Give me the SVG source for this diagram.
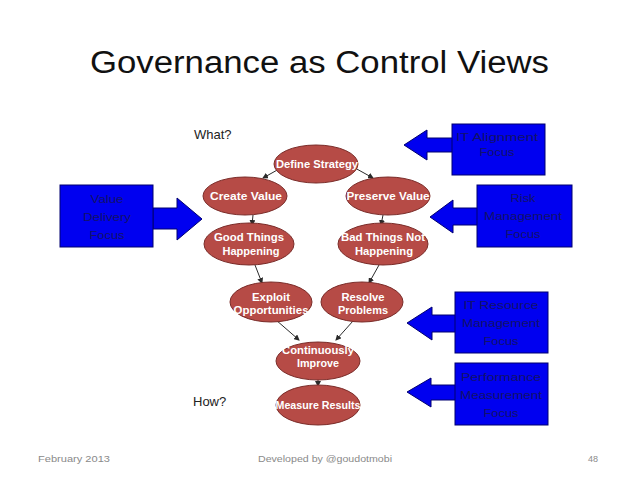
<svg xmlns="http://www.w3.org/2000/svg" width="638" height="479" viewBox="0 0 638 479">
<defs>
<marker id="ah" markerWidth="6" markerHeight="6" refX="5" refY="3" orient="auto" markerUnits="userSpaceOnUse">
<path d="M0,0 L6,3 L0,6 z" fill="#2a2a2a"/>
</marker>
<style>
.title{font-family:"Liberation Sans",Arial,sans-serif;font-size:31px;fill:#111}
.foot{font-family:"Liberation Sans",Arial,sans-serif;font-size:9px;fill:#8a8a8a}
.q{font-family:"Liberation Sans",Arial,sans-serif;font-size:13px;fill:#222}
.ell{fill:#b64b46;stroke:#7a2c29;stroke-width:1}
.et{font-family:"Liberation Sans",Arial,sans-serif;font-size:11px;font-weight:bold;fill:#fff;text-anchor:middle}
.box{fill:#0000f0;stroke:#000070;stroke-width:1}
.arr{fill:#0000f0;stroke:#000070;stroke-width:1}
.bt{font-family:"Liberation Sans",Arial,sans-serif;font-size:11.5px;fill:#12126a;text-anchor:middle}
.con{stroke:#2a2a2a;stroke-width:1;fill:none;marker-end:url(#ah)}
</style>
</defs>
<rect width="638" height="479" fill="#fff"/>
<text class="title" x="90" y="73" textLength="459" lengthAdjust="spacingAndGlyphs">Governance as Control Views</text>
<text class="q" x="194" y="139">What?</text>
<text class="q" x="193" y="406">How?</text>

<g id="connectors">
<line class="con" x1="279" y1="169" x2="263" y2="178"/>
<line class="con" x1="355" y1="168" x2="373" y2="178"/>
<line class="con" x1="253" y1="215" x2="252" y2="225"/>
<line class="con" x1="383" y1="215" x2="381" y2="225"/>
<line class="con" x1="255" y1="265" x2="262" y2="283"/>
<line class="con" x1="379" y1="265" x2="369" y2="283"/>
<line class="con" x1="276" y1="320" x2="299" y2="340"/>
<line class="con" x1="353" y1="321" x2="336" y2="340"/>
<line class="con" x1="318" y1="379" x2="318" y2="386"/>
</g>

<g id="define-strategy">
<ellipse class="ell" cx="316" cy="164" rx="42" ry="19"/>
<text class="et" x="317" y="168" textLength="82" lengthAdjust="spacingAndGlyphs">Define Strategy</text>
</g>
<g id="create-value">
<ellipse class="ell" cx="245" cy="196" rx="42" ry="19"/>
<text class="et" x="246" y="200" textLength="72" lengthAdjust="spacingAndGlyphs">Create Value</text>
</g>
<g id="preserve-value">
<ellipse class="ell" cx="388" cy="196" rx="42" ry="19"/>
<text class="et" x="388" y="200" textLength="83" lengthAdjust="spacingAndGlyphs">Preserve Value</text>
</g>
<g id="good-things">
<ellipse class="ell" cx="249" cy="244" rx="45" ry="21"/>
<text class="et" x="249" y="241" textLength="70" lengthAdjust="spacingAndGlyphs">Good Things</text>
<text class="et" x="251" y="255" textLength="57" lengthAdjust="spacingAndGlyphs">Happening</text>
</g>
<g id="bad-things">
<ellipse class="ell" cx="383" cy="244" rx="45" ry="21"/>
<text class="et" x="383" y="241" textLength="84" lengthAdjust="spacingAndGlyphs">Bad Things Not</text>
<text class="et" x="384" y="255" textLength="58" lengthAdjust="spacingAndGlyphs">Happening</text>
</g>
<g id="exploit-opportunities">
<ellipse class="ell" cx="271" cy="302" rx="41" ry="20"/>
<text class="et" x="271" y="301" textLength="38" lengthAdjust="spacingAndGlyphs">Exploit</text>
<text class="et" x="271" y="314" textLength="75" lengthAdjust="spacingAndGlyphs">Opportunities</text>
</g>
<g id="resolve-problems">
<ellipse class="ell" cx="362" cy="302" rx="41" ry="20"/>
<text class="et" x="363" y="301" textLength="43" lengthAdjust="spacingAndGlyphs">Resolve</text>
<text class="et" x="363" y="314" textLength="50" lengthAdjust="spacingAndGlyphs">Problems</text>
</g>
<g id="continuously-improve">
<ellipse class="ell" cx="318" cy="361" rx="42" ry="19"/>
<text class="et" x="318" y="354" textLength="72" lengthAdjust="spacingAndGlyphs">Continuously</text>
<text class="et" x="318" y="367" textLength="42" lengthAdjust="spacingAndGlyphs">Improve</text>
</g>
<g id="measure-results">
<ellipse class="ell" cx="318" cy="405" rx="42" ry="20"/>
<text class="et" x="318" y="409" textLength="85" lengthAdjust="spacingAndGlyphs">Measure Results</text>
</g>

<g id="value-delivery">
<polygon class="arr" points="153,208 177,208 177,198 202,219 177,240 177,229 153,229"/>
<rect class="box" x="60" y="185" width="93" height="62"/>
<text class="bt" x="107" y="203" textLength="33" lengthAdjust="spacingAndGlyphs">Value</text>
<text class="bt" x="107" y="221" textLength="48" lengthAdjust="spacingAndGlyphs">Delivery</text>
<text class="bt" x="107" y="239" textLength="35" lengthAdjust="spacingAndGlyphs">Focus</text>
</g>
<g id="it-alignment">
<polygon class="arr" points="453,138 427,138 427,130 404,145 427,160 427,152 453,152"/>
<rect class="box" x="452" y="124" width="93" height="51"/>
<text class="bt" x="497" y="141" textLength="82" lengthAdjust="spacingAndGlyphs">IT Alignment</text>
<text class="bt" x="497" y="156" textLength="35" lengthAdjust="spacingAndGlyphs">Focus</text>
</g>
<g id="risk-management">
<polygon class="arr" points="478,208 453,208 453,200 430,217 453,233 453,225 478,225"/>
<rect class="box" x="477" y="185" width="95" height="62"/>
<text class="bt" x="523" y="202" textLength="25" lengthAdjust="spacingAndGlyphs">Risk</text>
<text class="bt" x="523" y="220" textLength="78" lengthAdjust="spacingAndGlyphs">Management</text>
<text class="bt" x="523" y="238" textLength="35" lengthAdjust="spacingAndGlyphs">Focus</text>
</g>
<g id="it-resource">
<polygon class="arr" points="456,315 432,315 432,307 407,323 432,340 432,332 456,332"/>
<rect class="box" x="455" y="292" width="93" height="61"/>
<text class="bt" x="501" y="309" textLength="75" lengthAdjust="spacingAndGlyphs">IT Resource</text>
<text class="bt" x="501" y="327" textLength="78" lengthAdjust="spacingAndGlyphs">Management</text>
<text class="bt" x="501" y="345" textLength="35" lengthAdjust="spacingAndGlyphs">Focus</text>
</g>
<g id="performance-measurement">
<polygon class="arr" points="456,385 431,385 431,378 407,392 431,407 431,400 456,400"/>
<rect class="box" x="455" y="363" width="93" height="62"/>
<text class="bt" x="501" y="381" textLength="80" lengthAdjust="spacingAndGlyphs">Performance</text>
<text class="bt" x="501" y="399" textLength="82" lengthAdjust="spacingAndGlyphs">Measurement</text>
<text class="bt" x="501" y="417" textLength="35" lengthAdjust="spacingAndGlyphs">Focus</text>
</g>

<text class="foot" x="38" y="462" textLength="72" lengthAdjust="spacingAndGlyphs">February 2013</text>
<text class="foot" x="258" y="462" textLength="134" lengthAdjust="spacingAndGlyphs">Developed by @goudotmobi</text>
<text class="foot" x="588" y="462">48</text>
</svg>
